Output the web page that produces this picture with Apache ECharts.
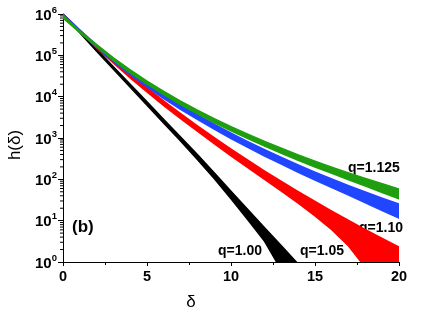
<!DOCTYPE html>
<html>
<head>
<meta charset="utf-8">
<script src="https://cdn.jsdelivr.net/npm/echarts@6/dist/echarts.min.js"></script>
<style>
  html, body { margin: 0; padding: 0; background: #fff; }
  #main { width: 436px; height: 332px; }
</style>
</head>
<body>
<div id="main"></div>
<script>
var delta = [0, 1, 2, 3, 4, 5, 6, 7, 8, 9, 10, 11, 12, 13, 14, 15, 16, 17, 18, 19, 20];

// band edges, given as log10 h(delta)
var blackHi = [6.00, 5.575, 5.15, 4.725, 4.30, 3.875, 3.45, 3.025, 2.60, 2.16, 1.71, 1.27, 0.83, 0.39, -0.05, null, null, null, null, null, null];
var blackLo = [6.00, 5.545, 5.10, 4.665, 4.23, 3.795, 3.36, 2.925, 2.48, 2.02, 1.53, 1.02, 0.50, -0.20, -0.90, null, null, null, null, null, null];

var redHi = [6.00, 5.612, 5.239, 4.884, 4.541, 4.212, 3.895, 3.588, 3.293, 3.007, 2.730, 2.462, 2.201, 1.949, 1.703, 1.464, 1.232, 1.005, 0.785, 0.570, 0.360];
var redLo = [6.00, 5.572, 5.179, 4.814, 4.456, 4.112, 3.785, 3.468, 3.163, 2.862, 2.570, 2.282, 2.001, 1.714, 1.423, 1.114, 0.782, 0.385, -0.135, -0.80, -1.50];

var blueHi = [6.00, 5.609, 5.250, 4.919, 4.611, 4.324, 4.054, 3.800, 3.561, 3.333, 3.117, 2.912, 2.715, 2.527, 2.347, 2.174, 2.008, 1.848, 1.693, 1.544, 1.400];
var blueLo = [6.00, 5.569, 5.190, 4.849, 4.531, 4.234, 3.954, 3.695, 3.451, 3.213, 2.987, 2.772, 2.565, 2.367, 2.172, 1.984, 1.798, 1.618, 1.433, 1.244, 1.060];

var greenHi = [5.97, 5.59, 5.258, 4.939, 4.647, 4.377, 4.127, 3.894, 3.676, 3.470, 3.276, 3.092, 2.917, 2.751, 2.592, 2.440, 2.295, 2.156, 2.021, 1.892, 1.768];
var greenLo = [5.90, 5.55, 5.208, 4.879, 4.577, 4.302, 4.047, 3.809, 3.586, 3.375, 3.176, 2.987, 2.807, 2.631, 2.462, 2.300, 2.145, 1.991, 1.836, 1.682, 1.528];

var FONT = "'Liberation Sans', Arial, sans-serif";

// minor log ticks 2..9 in every decade
var minorY = [];
for (var k = 0; k < 6; k++) {
  for (var m = 2; m <= 9; m++) minorY.push([0, m * Math.pow(10, k)]);
}

function band(name, color, lo, hi) {
  return {
    type: 'custom',
    name: name,
    data: delta.map(function (d, i) {
      return hi[i] == null ? [d, null, null] : [d, Math.pow(10, lo[i]), Math.pow(10, hi[i])];
    }),
    encode: { x: 0, y: [1, 2] },
    renderItem: function (params, api) {
      if (params.dataIndex !== 0) return;
      var top = [], bottom = [];
      delta.forEach(function (d, i) {
        if (hi[i] == null) return;
        top.push(api.coord([d, Math.pow(10, hi[i])]));
        bottom.push(api.coord([d, Math.pow(10, lo[i])]));
      });
      var cs = params.coordSys;
      return {
        type: 'group',
        clipPath: { type: 'rect', shape: { x: cs.x, y: cs.y, width: cs.width, height: cs.height } },
        children: [{
          type: 'polygon',
          shape: { points: top.concat(bottom.reverse()) },
          style: { fill: color, stroke: color, lineWidth: 1.5, lineJoin: 'round' }
        }]
      };
    }
  };
}

var chart = echarts.init(document.getElementById('main'));
chart.setOption({
  animation: false,
  backgroundColor: '#fff',
  grid: { left: 63, right: 37, top: 14, bottom: 70 },
  xAxis: {
    type: 'value', min: 0, max: 20, interval: 5,
    axisLine: { lineStyle: { color: '#000', width: 1 } },
    axisTick: { inside: false, length: 4, lineStyle: { color: '#000' } },
    minorTick: { show: true, splitNumber: 2, length: 3, lineStyle: { color: '#000' } },
    splitLine: { show: false },
    axisLabel: { color: '#000', fontSize: 14.5, fontWeight: 'bold', fontFamily: FONT, margin: 7 }
  },
  yAxis: {
    type: 'log', logBase: 10, min: 1, max: 1e6, splitNumber: 6,
    axisLine: { show: true, lineStyle: { color: '#000', width: 1 } },
    axisTick: { show: true, inside: false, length: 5, lineStyle: { color: '#000' } },
    splitLine: { show: false },
    axisLabel: {
      margin: 6,
      formatter: function (v) {
        return '{b|10}{s|' + Math.round(Math.log10(v)) + '}';
      },
      rich: {
        b: { color: '#000', fontSize: 15, fontWeight: 'bold', fontFamily: FONT, verticalAlign: 'bottom', lineHeight: 18 },
        s: { color: '#000', fontSize: 9.5, fontWeight: 'bold', fontFamily: FONT, verticalAlign: 'top', lineHeight: 10 }
      }
    }
  },
  series: [
    band('q=1.00', '#000000', blackLo, blackHi),
    band('q=1.05', '#ff0000', redLo, redHi),
    band('q=1.10', '#2046ff', blueLo, blueHi),
    band('q=1.125', '#1f9f0f', greenLo, greenHi),
    {
      type: 'custom',
      name: 'minor ticks',
      data: minorY,
      silent: true,
      renderItem: function (params, api) {
        var p = api.coord([0, api.value(1)]);
        return {
          type: 'line',
          shape: { x1: p[0] - 3, y1: p[1], x2: p[0], y2: p[1] },
          style: { stroke: '#000', lineWidth: 1 }
        };
      }
    }
  ],
  graphic: [
    { type: 'text', left: 72, top: 219, style: { text: '(b)', font: 'bold 17px ' + FONT, fill: '#000' } },
    { type: 'text', left: 218, top: 244, style: { text: 'q=1.00', font: 'bold 14px ' + FONT, fill: '#000' } },
    { type: 'text', left: 300, top: 244, style: { text: 'q=1.05', font: 'bold 14px ' + FONT, fill: '#000' } },
    { type: 'text', left: 359, top: 221, style: { text: 'q=1.10', font: 'bold 14px ' + FONT, fill: '#000' } },
    { type: 'text', left: 348, top: 161, style: { text: 'q=1.125', font: 'bold 14px ' + FONT, fill: '#000' } },
    { type: 'text', x: 15, y: 145, rotation: Math.PI / 2,
      style: { text: 'h(δ)', font: '17px ' + FONT, fill: '#000', align: 'center', verticalAlign: 'middle' } },
    { type: 'text', x: 191, y: 302,
      style: { text: 'δ', font: '17px ' + FONT, fill: '#000', align: 'center', verticalAlign: 'middle' } }
  ]
});
</script>
</body>
</html>
